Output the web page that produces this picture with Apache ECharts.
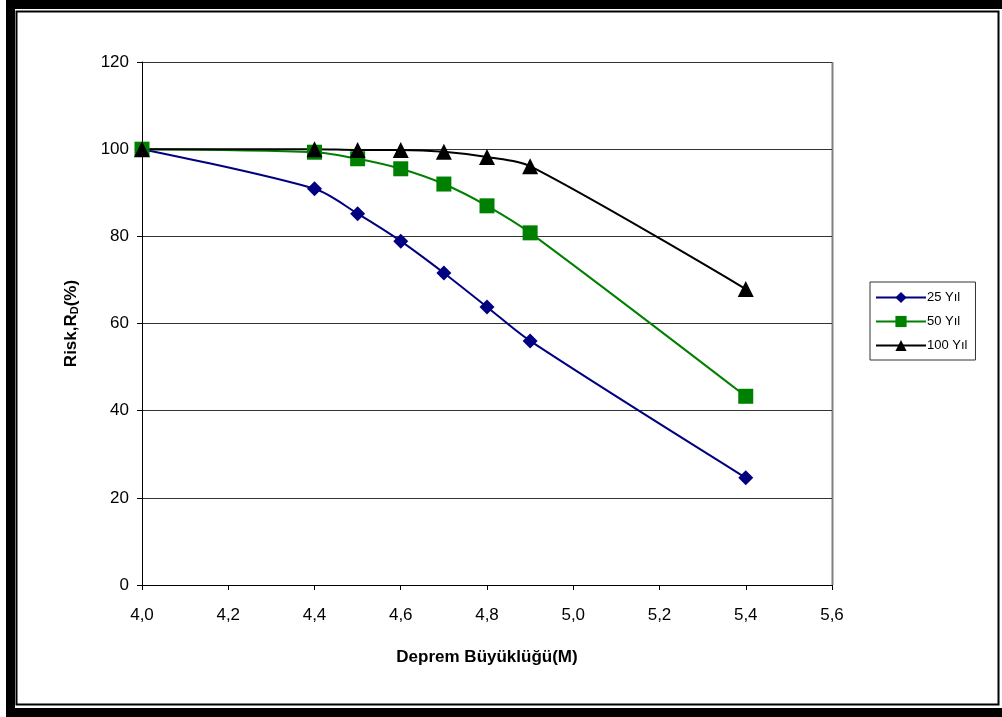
<!DOCTYPE html>
<html>
<head>
<meta charset="utf-8">
<script src="https://cdn.jsdelivr.net/npm/echarts@6/dist/echarts.min.js"></script>
<style>
    html, body { margin: 0; padding: 0; background: #fff; }
    #chart { width: 1002px; height: 717px; }
</style>
</head>
<body>
<div id="chart"></div>
<script>
    // deprem büyüklüğü (M) ve risk değerleri
    var magnitudes = [4.0, 4.4, 4.5, 4.6, 4.7, 4.8, 4.9, 5.4];
    var risk25 = [100, 90.9, 85.2, 78.9, 71.6, 63.8, 56.0, 24.6];
    var risk50 = [100, 99.3, 97.8, 95.5, 92.0, 87.0, 80.8, 43.3];
    var risk100 = [100, 100, 99.8, 99.8, 99.4, 98.2, 96.1, 67.9];
    var seriesNames = ['25 Yıl', '50 Yıl', '100 Yıl'];

    function pairs(vals) {
        return magnitudes.map(function (m, i) { return [m, vals[i]]; });
    }

    var myChart = echarts.init(document.getElementById('chart'));
    var font = 'Liberation Sans, Arial, sans-serif';

    myChart.setOption({
        animation: false,
        textStyle: { fontFamily: font },
        grid: { left: 142, right: 170, top: 62, bottom: 132 },
        legend: {
            orient: 'vertical',
            left: 870,
            top: 282,
            data: seriesNames,
            borderColor: '#333',
            borderWidth: 1,
            borderRadius: 0,
            padding: [9, 8, 8, 5],
            itemWidth: 50,
            itemHeight: 14,
            itemGap: 11,
            textStyle: { fontSize: 13, color: '#000', fontFamily: font, padding: [0, 0, 0, -4] }
        },
        xAxis: {
            type: 'value',
            min: 4.0,
            max: 5.6,
            interval: 0.2,
            name: 'Deprem Büyüklüğü(M)',
            nameLocation: 'middle',
            nameGap: 64,
            nameTextStyle: { fontSize: 17, fontWeight: 'bold', color: '#000' },
            axisLine: { lineStyle: { color: '#000', width: 1 } },
            axisTick: { show: true, inside: false, length: 5, lineStyle: { color: '#000' } },
            axisLabel: {
                fontSize: 17, color: '#000', margin: 22,
                formatter: function (v) { return v.toFixed(1).replace('.', ','); }
            },
            splitLine: { show: false }
        },
        yAxis: {
            type: 'value',
            min: 0,
            max: 120,
            interval: 20,
            name: '{a|Risk,R}{b|D}{a|(%)}',
            nameLocation: 'middle',
            nameGap: 62,
            nameRotate: 90,
            nameTextStyle: {
                rich: {
                    a: { fontSize: 17, fontWeight: 'bold', color: '#000', fontFamily: font },
                    b: { fontSize: 11, fontWeight: 'bold', color: '#000', fontFamily: font, padding: [6, 0, 0, 0] }
                }
            },
            axisLine: { show: true, lineStyle: { color: '#000', width: 1 } },
            axisTick: { show: true, inside: false, length: 5, lineStyle: { color: '#000' } },
            axisLabel: { fontSize: 17, color: '#000', margin: 13 },
            splitLine: { show: true, lineStyle: { color: '#333', width: 1 } }
        },
        series: [
            {
                name: seriesNames[0],
                type: 'line',
                smooth: 0.3,
                data: pairs(risk25),
                symbol: 'diamond',
                symbolSize: 15,
                itemStyle: { color: '#000080' },
                lineStyle: { color: '#000080', width: 2 }
            },
            {
                name: seriesNames[1],
                type: 'line',
                smooth: 0.3,
                data: pairs(risk50),
                symbol: 'rect',
                symbolSize: 15,
                itemStyle: { color: '#008000' },
                lineStyle: { color: '#008000', width: 2 }
            },
            {
                name: seriesNames[2],
                type: 'line',
                smooth: 0.3,
                data: pairs(risk100),
                symbol: 'triangle',
                symbolSize: 16,
                itemStyle: { color: '#000' },
                lineStyle: { color: '#000', width: 2 }
            }
        ],
        graphic: [
            // dış çerçeve
            { type: 'rect', shape: { x: 6, y: 0, width: 996, height: 9 }, style: { fill: '#000' }, silent: true },
            { type: 'rect', shape: { x: 6, y: 0, width: 9, height: 717 }, style: { fill: '#000' }, silent: true },
            { type: 'rect', shape: { x: 6, y: 708, width: 996, height: 9 }, style: { fill: '#000' }, silent: true },
            { type: 'rect', shape: { x: 16.5, y: 11.5, width: 982, height: 693 }, style: { fill: 'none', stroke: '#000', lineWidth: 2 }, silent: true },
            // plot alanı sağ kenarı
            { type: 'line', shape: { x1: 832.5, y1: 62, x2: 832.5, y2: 585 }, style: { stroke: '#808080', lineWidth: 2 }, silent: true }
        ]
    });
</script>
</body>
</html>
